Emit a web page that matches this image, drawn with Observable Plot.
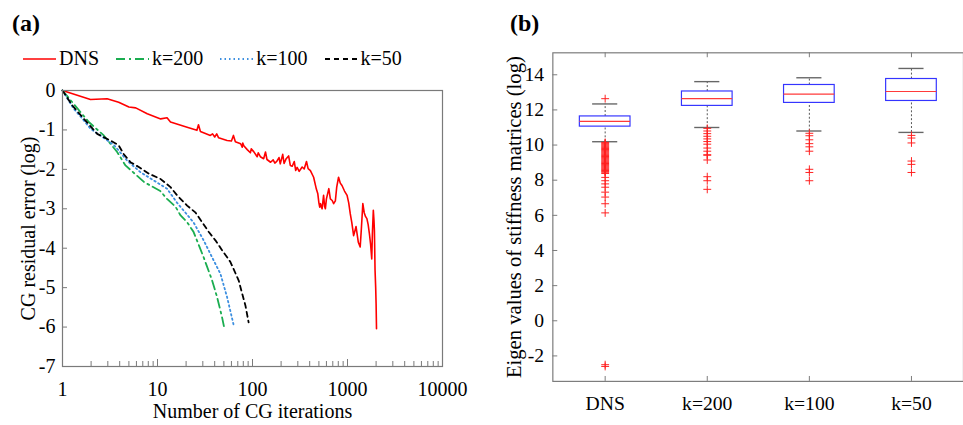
<!DOCTYPE html>
<html><head><meta charset="utf-8">
<script src="https://cdn.jsdelivr.net/npm/d3@7"></script>
<script src="https://cdn.jsdelivr.net/npm/@observablehq/plot@0.6"></script>
<style>
html,body{margin:0;padding:0;background:#fff;overflow:hidden;}
#wrap{position:relative;width:963px;height:425px;overflow:hidden;font-family:"Liberation Serif","Times New Roman",serif;color:#000;}
.panel{position:absolute;top:0;}
.tag{position:absolute;top:10px;font-weight:bold;font-size:24px;}
#legend{position:absolute;left:23px;top:47px;display:flex;gap:17px;font-size:20px;align-items:center;}
#legend .item{display:flex;align-items:center;gap:3px;}
</style>
</head><body>
<div id="wrap">
  <div class="tag" style="left:12px">(a)</div>
  <div class="tag" style="left:510px">(b)</div>
  <div id="legend"></div>
  <div id="left" class="panel" style="left:0"></div>
  <div id="right" class="panel" style="left:480px"></div>
</div>
<script>
// ---------- panel (a) data ----------
const seriesNames = ["DNS", "k=200", "k=100", "k=50"];
const seriesColors = ["#ff0000", "#1aad50", "#3d8fe0", "#000000"];
const seriesDash = [null, "9,4,2,4", "1.5,3", "5,4"];

const dnsIter = [1,1.97,2.95,3.9,5,5.9,7.8,10.8,12.6,13.7,20.5,26,27,28.3,36,38,40,42,44,54,60,63,66,75,78,79,81,88,95,97,103,112,115,121,131,137,142,155,165,172,180,190,196,208,215,225,240,250,262,275,285,295,310,333,350,370,385,407,440,470,487,500,510,520,540,560,575,585,600,636,660,690,715,745,770,805,840,875,930,990,1030,1070,1110,1160,1200,1230,1255,1300,1360,1400,1450,1500,1550,1600,1650,1700,1750,1800,1830,1870,1900,1920,1950,1980,2000,2020];
const dnsVal = [0,-0.23,-0.21,-0.30,-0.42,-0.44,-0.59,-0.72,-0.69,-0.80,-0.93,-1.01,-0.87,-1.04,-1.14,-1.10,-1.18,-1.10,-1.20,-1.27,-1.28,-1.14,-1.30,-1.35,-1.44,-1.33,-1.40,-1.50,-1.58,-1.48,-1.55,-1.68,-1.58,-1.68,-1.73,-1.56,-1.75,-1.82,-1.76,-1.84,-1.80,-1.70,-1.86,-1.62,-1.85,-1.74,-1.66,-1.90,-1.92,-1.80,-2.03,-1.95,-2.05,-1.94,-1.99,-1.80,-1.98,-2.03,-2.20,-2.50,-2.62,-2.85,-2.96,-2.87,-3.00,-2.66,-2.95,-3.00,-2.75,-2.49,-2.75,-2.79,-2.87,-2.80,-2.45,-2.20,-2.35,-2.41,-2.55,-2.66,-2.85,-3.13,-3.35,-3.68,-3.55,-3.45,-3.60,-3.85,-3.97,-3.50,-2.87,-3.10,-3.20,-3.25,-3.40,-3.63,-3.90,-4.27,-3.60,-3.04,-3.30,-3.55,-4.56,-5.00,-5.41,-6.04];

const k200Iter = [1,1.55,1.89,2.72,3.76,4.6,7.2,10.7,12.6,15.5,17.5,20.5,24,30.6,37.6,42.4,47.8,50.6];
const k200Val = [0,-0.55,-0.80,-1.14,-1.56,-1.90,-2.32,-2.55,-2.75,-2.95,-3.17,-3.34,-3.59,-4.23,-4.82,-5.24,-5.75,-6.04];

const k100Iter = [1,1.3,1.6,1.97,2.5,3.5,4.8,6.6,9.1,12.6,16.1,19.7,24,30.6,39,46,54,63.5];
const k100Val = [0,-0.45,-0.70,-0.97,-1.14,-1.39,-1.78,-2.07,-2.28,-2.49,-2.85,-3.10,-3.35,-3.80,-4.31,-4.65,-5.24,-5.96];

const k50Iter = [1,1.27,1.68,2.32,3.2,3.9,4.4,5.2,6.35,8.1,10.7,13.7,16.1,20.5,25,29.5,34.7,40.7,47.8,58.6,71.6,78,84.2,91];
const k50Val = [0,-0.38,-0.72,-1.10,-1.27,-1.39,-1.61,-1.82,-1.94,-2.11,-2.24,-2.45,-2.66,-2.92,-3.09,-3.34,-3.59,-3.80,-4.05,-4.35,-4.82,-5.16,-5.45,-5.88];

const xMajorTicks = [1, 10, 100, 1000, 10000];
const xMinorTicks = [2,3,4,5,6,7,8,9,20,30,40,50,60,70,80,90,200,300,400,500,600,700,800,900,2000,3000,4000,5000,6000,7000,8000,9000];
const yTicksA = [0,-1,-2,-3,-4,-5,-6,-7];

// ---------- panel (b) data ----------
const boxCats = ["DNS", "k=200", "k=100", "k=50"];
const boxQ1 = [11.05, 12.23, 12.40, 12.51];
const boxMed = [11.35, 12.64, 12.90, 13.05];
const boxQ3 = [11.63, 13.05, 13.42, 13.76];
const whiskLo = [10.19, 11.00, 10.80, 10.72];
const whiskHi = [12.34, 13.61, 13.83, 14.36];
const outDNS = [12.64,10.15,10.1,10.05,10.0,9.95,9.9,9.85,9.8,9.75,9.7,9.65,9.6,9.55,9.5,9.45,9.4,9.35,9.3,9.25,9.2,9.15,9.1,9.05,9.0,8.95,8.9,8.85,8.8,8.75,8.7,8.65,8.6,8.55,8.5,8.45,8.38,8.16,7.97,7.79,7.6,7.32,7.04,6.66,6.14,-2.5,-2.6];
const outK200 = [10.95,10.8,10.65,10.5,10.35,10.2,10.05,9.83,9.65,9.45,9.42,9.15,8.2,7.97,7.48];
const outK100 = [10.67,10.53,10.3,10.08,9.9,9.65,8.62,8.44,7.97];
const outK50 = [10.55,10.4,10.12,9.09,8.9,8.44];
const yTicksB = [-2,0,2,4,6,8,10,12,14];

// ---------- legend ----------
const legend = document.getElementById("legend");
seriesNames.forEach((n, i) => {
  const it = document.createElement("div");
  it.className = "item";
  it.innerHTML = `<svg width="33" height="6"><line x1="0" y1="3" x2="33" y2="3" stroke="${seriesColors[i]}" stroke-width="${i===0?1.6:1.8}" ${seriesDash[i] ? `stroke-dasharray="${seriesDash[i]}"` : ""}/></svg><span>${n}</span>`;
  legend.appendChild(it);
});

// ---------- panel (a) ----------
const mk = (xs, ys) => xs.map((x, i) => ({it: x, v: ys[i]}));
const seriesData = [mk(dnsIter, dnsVal), mk(k200Iter, k200Val), mk(k100Iter, k100Val), mk(k50Iter, k50Val)];
const gray = "#7a7a7a";

function serifize(svg) {
  svg.querySelectorAll("text, g").forEach(el => el.style.setProperty("font-family", "'Liberation Serif', serif", "important"));
  svg.style.setProperty("font-family", "'Liberation Serif', serif", "important");
  return svg;
}

const A = Plot.plot({
  width: 480, height: 425,
  marginLeft: 62, marginRight: 38, marginTop: 90, marginBottom: 59,
  style: {fontSize: "20px", color: "#000", background: "transparent", overflow: "visible"},
  x: {type: "log", domain: [1, 10000]},
  y: {domain: [-7, 0]},
  marks: [
    Plot.axisX({ticks: xMajorTicks, tickSize: 0, tickPadding: 15, tickFormat: d => String(d), label: null, fontSize: 20}),
    Plot.axisY({ticks: yTicksA, tickSize: 0, tickPadding: 7, tickFormat: d => String(d), label: null, fontSize: 20}),
    Plot.tickX(xMajorTicks, {x: d => d, insetTop: 269, stroke: gray}),
    Plot.tickX(xMinorTicks, {x: d => d, insetTop: 271, stroke: gray}),
    Plot.tickY(yTicksA, {y: d => d, insetRight: 375, stroke: gray}),
    ...seriesData.map((d, i) => Plot.line(d, {x: "it", y: "v", stroke: seriesColors[i], strokeWidth: i === 0 ? 1.6 : 1.8, strokeDasharray: seriesDash[i] || undefined})),
    Plot.frame({stroke: gray, strokeWidth: 1.2}),
    Plot.text(["Number of CG iterations"], {frameAnchor: "bottom", dy: 51, fontSize: 20}),
    Plot.text(["CG residual error (log)"], {frameAnchor: "left", textAnchor: "middle", dx: -34, rotate: -90, fontSize: 20})
  ]
});
document.getElementById("left").appendChild(serifize(A));

// ---------- panel (b) ----------
const boxes = boxCats.map((c, i) => ({cat: c, q1: boxQ1[i], med: boxMed[i], q3: boxQ3[i], lo: whiskLo[i], hi: whiskHi[i]}));
const outliers = [outDNS, outK200, outK100, outK50].flatMap((arr, i) => arr.map(v => ({cat: boxCats[i], v})));

const B = Plot.plot({
  width: 492, height: 425,
  marginLeft: 73.7, marginRight: 0, marginTop: 53.3, marginBottom: 37,
  style: {fontSize: "20px", color: "#000", background: "transparent"},
  x: {type: "band", domain: boxCats, padding: 0},
  y: {domain: [-3.45, 15.25]},
  marks: [
    Plot.axisX({tickSize: 0, tickPadding: 15, label: null, fontSize: 20}),
    Plot.axisY({ticks: yTicksB, tickSize: 0, tickPadding: 9, tickFormat: d => String(d), label: null, fontSize: 20}),
    Plot.tickY(yTicksB, {y: d => d, insetRight: 413.3, stroke: gray}),
    Plot.tickX(boxCats, {x: d => d, insetTop: 329.7, stroke: gray}),
    Plot.tickX(boxCats, {x: d => d, insetBottom: 329.7, stroke: gray}),
    Plot.ruleX(boxes, {x: "cat", y1: "q3", y2: "hi", stroke: "#555", strokeDasharray: "2,2"}),
    Plot.ruleX(boxes, {x: "cat", y1: "lo", y2: "q1", stroke: "#555", strokeDasharray: "2,2"}),
    Plot.tickY(boxes, {x: "cat", y: "hi", insetLeft: 39.2, insetRight: 39.2, stroke: "#666", strokeWidth: 1.4}),
    Plot.tickY(boxes, {x: "cat", y: "lo", insetLeft: 39.2, insetRight: 39.2, stroke: "#666", strokeWidth: 1.4}),
    Plot.barY(boxes, {x: "cat", y1: "q1", y2: "q3", fill: "none", stroke: "#3434ff", strokeWidth: 1.2, insetLeft: 26.2, insetRight: 26.2}),
    Plot.tickY(boxes, {x: "cat", y: "med", insetLeft: 26.2, insetRight: 26.2, stroke: "#ff3a3a", strokeWidth: 1.2}),
    Plot.dot(outliers, {x: "cat", y: "v", symbol: "plus", stroke: "#ff2020", r: 2.7, strokeWidth: 1}),
    Plot.frame({stroke: gray, strokeWidth: 1.2}),
    Plot.text(["Eigen values of stiffness matrices (log)"], {frameAnchor: "left", textAnchor: "middle", dx: -38.7, rotate: -90, fontSize: 21})
  ]
});
document.getElementById("right").appendChild(serifize(B));
</script>
</body></html>
